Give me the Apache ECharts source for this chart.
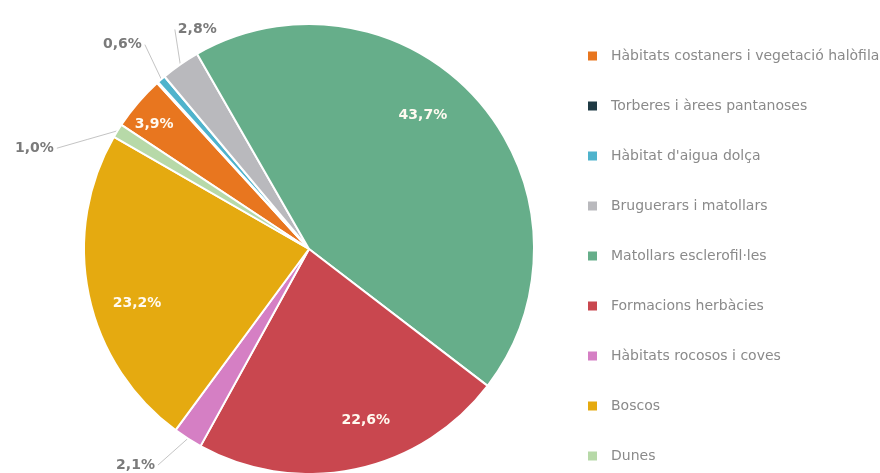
<!DOCTYPE html>
<html>
<head>
<meta charset="utf-8">
<script src="https://cdn.jsdelivr.net/npm/echarts@6/dist/echarts.min.js"></script>
<style>
  html, body { margin: 0; padding: 0; background: #ffffff; }
  #chart { width: 880px; height: 473px; }
</style>
</head>
<body>
<div id="chart"></div>
<script>
// Habitat categories, in drawing order (clockwise)
const categories = [
  'Hàbitats costaners i vegetació halòfila',
  'Torberes i àrees pantanoses',
  "Hàbitat d'aigua dolça",
  'Bruguerars i matollars',
  'Matollars esclerofil·les',
  'Formacions herbàcies',
  'Hàbitats rocosos i coves',
  'Boscos',
  'Dunes'
];
// Share of surface, percent
const values = [3.9, 0.1, 0.6, 2.8, 43.7, 22.6, 2.1, 23.2, 1.0];
const colors = ['#e8761f', '#1f3a44', '#4fb3cc', '#b9b9bd', '#66ae8a', '#c9474f', '#d57fc4', '#e5aa10', '#b7d9a8'];

// Which slices carry their label inside, and which get an outside callout
const insideLabels = [0, 4, 5, 7];
const hiddenLabels = [1];
// Label nudges (style only)
const labelNudge = {
  0: [-67, -50], 4: [27, -58], 5: [33, 58], 7: [-59, 31],
  2: [40, -18], 3: [94, -17], 6: [24, 8], 8: [0, 29]
};

const fmt = v => v.toFixed(1).replace('.', ',') + '%';

const data = categories.map((name, i) => {
  const item = { name, value: values[i], itemStyle: { color: colors[i] } };
  if (hiddenLabels.includes(i)) {
    item.label = { show: false };
    item.labelLine = { show: false };
  } else if (insideLabels.includes(i)) {
    item.label = {
      position: 'inside',
      color: '#fffaf0',
      fontWeight: 'bold',
      fontSize: 14
    };
    item.labelLine = { show: false };
  }
  return item;
});

// Move a label and redraw its callout as a straight line from the slice edge
// to the nearest side of the moved label.
function layoutLabel(p) {
  const n = labelNudge[p.dataIndex] || [0, 0];
  const out = { dx: n[0], dy: n[1] };
  const pts = p.labelLinePoints;
  if (pts && pts.length && !insideLabels.includes(p.dataIndex)) {
    const r = p.labelRect;
    const x0 = r.x + n[0], y0 = r.y + n[1];
    const start = pts[0];
    const cx = x0 + r.width / 2;
    const endX = cx < start[0] ? x0 + r.width + 3 : x0 - 3;
    const endY = y0 + r.height / 2;
    out.labelLinePoints = [
      [start[0], start[1]],
      [(start[0] + endX) / 2, (start[1] + endY) / 2],
      [endX, endY]
    ];
  }
  return out;
}

const chart = echarts.init(document.getElementById('chart'), null, { renderer: 'canvas' });
chart.setOption({
  animation: false,
  backgroundColor: '#ffffff',
  legend: {
    orient: 'vertical',
    left: 581,
    top: 44,
    itemWidth: 11,
    itemHeight: 11,
    itemGap: 36,
    icon: 'rect',
    data: categories,
    textStyle: {
      fontFamily: 'DejaVu Sans',
      fontSize: 14,
      color: '#8a8a8a',
      lineHeight: 14,
      padding: [0, 0, 0, 8]
    }
  },
  series: [{
    type: 'pie',
    center: [309, 249],
    radius: [0, 225],
    startAngle: 146.5,
    clockwise: true,
    avoidLabelOverlap: false,
    itemStyle: { borderColor: '#ffffff', borderWidth: 2 },
    label: {
      show: true,
      formatter: p => fmt(p.value),
      fontFamily: 'DejaVu Sans',
      fontSize: 14,
      fontWeight: 'bold',
      color: '#7a7a7a',
      position: 'outside'
    },
    labelLine: {
      show: true,
      length: 22,
      length2: 40,
      lineStyle: { color: '#c4c4c4', width: 1 }
    },
    labelLayout: layoutLabel,
    data
  }]
});
</script>
</body>
</html>
